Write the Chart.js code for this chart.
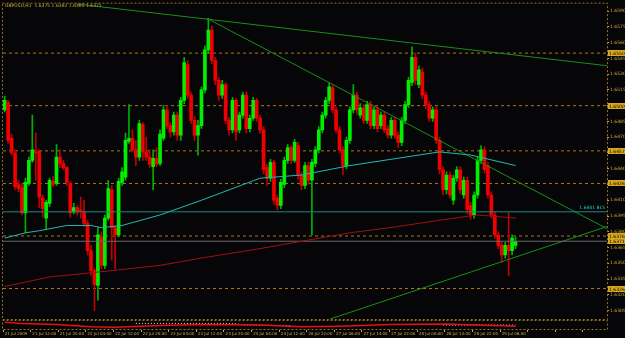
<!DOCTYPE html>
<html>
<head>
<meta charset="utf-8">
<script src="https://cdn.jsdelivr.net/npm/chart.js@4.4.0/dist/chart.umd.min.js"></script>
<style>
html, body { margin: 0; padding: 0; background: #060609; }
#wrap { width: 625px; height: 338px; }
</style>
</head>
<body>
<div id="wrap"><canvas id="chart" width="625" height="338"></canvas></div>
<script>
// GBPUSD H1, 21 Jul 2009 04:00 .. 29 Jul 10:00
const chartTitle = 'GBPUSD,H1  1.6375 1.6382 1.6365 1.6371';
const slotCount = 175; // hourly slots incl. empty space on the right

const tickLabels = ['21 Jul 2009', '21 Jul 12:00', '21 Jul 20:00', '22 Jul 04:00', '22 Jul 12:00',
  '22 Jul 20:00', '23 Jul 04:00', '23 Jul 12:00', '23 Jul 20:00', '24 Jul 04:00', '24 Jul 12:00',
  '26 Jul 22:00', '27 Jul 06:00', '27 Jul 14:00', '27 Jul 22:00', '28 Jul 06:00', '28 Jul 14:00',
  '28 Jul 22:00', '29 Jul 06:00'];

const priceTicks = [1.6305, 1.6320, 1.6335, 1.6350, 1.6365, 1.6380, 1.6395, 1.6410, 1.6425, 1.6440,
  1.6455, 1.6470, 1.6485, 1.6500, 1.6515, 1.6530, 1.6545, 1.6560, 1.6575, 1.6590];

const opens = [
  1.6496,1.6503,1.6469,1.6455,1.6425,1.6422,1.6398,1.6426,1.6448,1.6456,
  1.6457,1.6412,1.6393,1.6407,1.6428,1.6426,1.6451,1.6445,1.6441,1.6426,
  1.6399,1.6403,1.6401,1.6399,1.6388,1.6362,1.6343,1.6329,1.6375,1.6348,
  1.6393,1.6420,1.6384,1.6377,1.6427,1.6432,1.6466,1.6469,1.6458,1.6451,
  1.6482,1.6456,1.6451,1.6442,1.6450,1.6445,1.6469,1.6496,1.6481,1.6475,
  1.6491,1.6472,1.6505,1.6539,1.6510,1.6486,1.6472,1.6481,1.6515,1.6553,
  1.6572,1.6543,1.6524,1.6510,1.6520,1.6486,1.6477,1.6505,1.6477,1.6491,
  1.6510,1.6478,1.6488,1.6505,1.6488,1.6477,1.6441,1.6431,1.6446,1.6412,
  1.6405,1.6425,1.6448,1.6460,1.6448,1.6462,1.6434,1.6424,1.6443,1.6429,
  1.6445,1.6458,1.6477,1.6491,1.6505,1.6517,1.6496,1.6477,1.6458,1.6443,
  1.6467,1.6496,1.6510,1.6491,1.6498,1.6486,1.6501,1.6481,1.6496,1.6481,
  1.6491,1.6478,1.6472,1.6486,1.6472,1.6465,1.6486,1.6501,1.6522,1.6546,
  1.6520,1.6532,1.6510,1.6501,1.6488,1.6496,1.6467,1.6439,1.6420,1.6434,
  1.6410,1.6431,1.6439,1.6415,1.6429,1.6405,1.6396,1.6415,1.6448,1.6458,
  1.6443,1.6415,1.6396,1.6377,1.6367,1.6358,1.6367,1.6362,1.6367];
const highs = [
  1.6509,1.6505,1.6473,1.6458,1.6429,1.6426,1.6431,1.6451,1.6491,1.6474,
  1.6458,1.6415,1.6410,1.6431,1.6433,1.6463,1.6458,1.6448,1.6442,1.6428,
  1.6407,1.6405,1.6413,1.6410,1.6391,1.6367,1.6345,1.6384,1.6380,1.6396,
  1.6429,1.6424,1.6386,1.6431,1.6441,1.6474,1.6501,1.6477,1.6467,1.6486,
  1.6484,1.6470,1.6458,1.6458,1.6460,1.6477,1.6500,1.6500,1.6484,1.6494,
  1.6494,1.6508,1.6546,1.6543,1.6513,1.6490,1.6486,1.6518,1.6557,1.6583,
  1.6576,1.6546,1.6527,1.6524,1.6522,1.6489,1.6508,1.6507,1.6494,1.6513,
  1.6513,1.6491,1.6508,1.6507,1.6491,1.6480,1.6444,1.6449,1.6448,1.6415,
  1.6430,1.6451,1.6463,1.6462,1.6468,1.6465,1.6437,1.6446,1.6446,1.6449,
  1.6461,1.6480,1.6494,1.6508,1.6522,1.6520,1.6499,1.6480,1.6461,1.6470,
  1.6499,1.6520,1.6513,1.6502,1.6501,1.6504,1.6504,1.6499,1.6499,1.6494,
  1.6494,1.6481,1.6489,1.6489,1.6475,1.6489,1.6504,1.6527,1.6556,1.6550,
  1.6538,1.6536,1.6513,1.6504,1.6499,1.6499,1.6470,1.6442,1.6437,1.6437,
  1.6434,1.6442,1.6442,1.6432,1.6432,1.6408,1.6418,1.6451,1.6462,1.6461,
  1.6446,1.6418,1.6399,1.6380,1.6370,1.6370,1.6398,1.6377,1.6375];
const lows = [
  1.6494,1.6464,1.6453,1.6420,1.6418,1.6396,1.6379,1.6424,1.6446,1.6429,
  1.6403,1.6394,1.6382,1.6404,1.6423,1.6424,1.6441,1.6439,1.6424,1.6394,
  1.6397,1.6396,1.6393,1.6385,1.6358,1.6338,1.6305,1.6315,1.6345,1.6345,
  1.6391,1.6353,1.6345,1.6375,1.6424,1.6429,1.6464,1.6456,1.6443,1.6448,
  1.6448,1.6448,1.6441,1.6420,1.6442,1.6443,1.6467,1.6478,1.6470,1.6472,
  1.6467,1.6467,1.6502,1.6507,1.6483,1.6467,1.6453,1.6478,1.6512,1.6550,
  1.6540,1.6520,1.6505,1.6507,1.6483,1.6472,1.6474,1.6467,1.6474,1.6488,
  1.6474,1.6475,1.6486,1.6485,1.6474,1.6435,1.6424,1.6428,1.6406,1.6401,
  1.6402,1.6422,1.6445,1.6445,1.6446,1.6430,1.6420,1.6421,1.6425,1.6377,
  1.6442,1.6455,1.6474,1.6488,1.6502,1.6493,1.6474,1.6455,1.6434,1.6440,
  1.6464,1.6493,1.6492,1.6488,1.6483,1.6483,1.6478,1.6478,1.6475,1.6478,
  1.6474,1.6469,1.6469,1.6469,1.6460,1.6462,1.6483,1.6498,1.6519,1.6520,
  1.6517,1.6507,1.6497,1.6485,1.6485,1.6464,1.6435,1.6415,1.6416,1.6412,
  1.6406,1.6428,1.6416,1.6412,1.6397,1.6392,1.6393,1.6412,1.6445,1.6436,
  1.6412,1.6393,1.6374,1.6364,1.6351,1.6355,1.6338,1.6358,1.6364];
const closes = [
  1.6505,1.6467,1.6455,1.6423,1.6421,1.6398,1.6427,1.6448,1.6458,1.6455,
  1.6413,1.6402,1.6408,1.6429,1.6425,1.6451,1.6445,1.6441,1.6427,1.6398,
  1.6403,1.6399,1.6400,1.6388,1.6362,1.6343,1.6330,1.6377,1.6348,1.6393,
  1.6421,1.6384,1.6377,1.6428,1.6437,1.6467,1.6469,1.6458,1.6451,1.6483,
  1.6456,1.6451,1.6444,1.6450,1.6444,1.6473,1.6496,1.6481,1.6475,1.6491,
  1.6472,1.6505,1.6541,1.6510,1.6486,1.6472,1.6481,1.6515,1.6553,1.6572,
  1.6543,1.6524,1.6510,1.6520,1.6486,1.6477,1.6505,1.6475,1.6491,1.6510,
  1.6478,1.6488,1.6505,1.6488,1.6477,1.6439,1.6431,1.6446,1.6410,1.6405,
  1.6427,1.6448,1.6460,1.6448,1.6465,1.6434,1.6424,1.6443,1.6429,1.6446,
  1.6458,1.6477,1.6491,1.6505,1.6518,1.6496,1.6477,1.6458,1.6443,1.6467,
  1.6496,1.6510,1.6496,1.6498,1.6486,1.6501,1.6481,1.6496,1.6478,1.6491,
  1.6477,1.6472,1.6486,1.6472,1.6465,1.6486,1.6501,1.6524,1.6546,1.6524,
  1.6534,1.6510,1.6501,1.6488,1.6496,1.6467,1.6439,1.6420,1.6434,1.6415,
  1.6431,1.6439,1.6420,1.6429,1.6401,1.6396,1.6415,1.6448,1.6458,1.6439,
  1.6415,1.6396,1.6377,1.6367,1.6358,1.6367,1.6362,1.6374,1.6371];

// moving averages (bar index -> value)
const maFastIdx = [0, 6, 10, 18, 25, 28, 34, 45, 57, 74, 86, 100, 114, 126, 135, 148];
const maFastVals = [1.6374, 1.6379, 1.6381, 1.6386, 1.6386, 1.6384, 1.6386, 1.6396, 1.6410,
  1.6431, 1.6434, 1.6443, 1.6450, 1.6456, 1.6453, 1.6443];
const maSlowIdx = [0, 13, 25, 45, 57, 74, 86, 100, 114, 126, 137, 148];
const maSlowVals = [1.6328, 1.6337, 1.6341, 1.6348, 1.6355, 1.6364, 1.6371, 1.6379, 1.6385,
  1.6391, 1.6396, 1.6393];

// lower indicator window (0..10)
const subIdx = [0, 5, 15, 25, 32, 45, 57, 74, 86, 97, 112, 128, 148];
const subRed = [7.0, 6.0, 5.0, 3.0, 2.5, 4.0, 5.0, 4.5, 3.0, 3.5, 5.0, 5.5, 3.5];
const subDotsIdx = [38, 57, 66, 70, 83, 84, 127, 148];
const subDots = [6.0, 6.0, 6.0, 4.5, 4.0, null, 4.5, 4.5];

// trend lines: [startIdx, startPrice, endIdx, endPrice]
const trendLines = [
  [17.5, 1.6598, 174.5, 1.6538],
  [58.6, 1.6583, 174.5, 1.6383],
  [94.3, 1.6297, 174.5, 1.6385]
];
const levelPrices = [1.6550, 1.6500, 1.6457, 1.6426, 1.6376, 1.6326];
const stopLevel = 1.6399;
const stopLabel = '1.6401 BL5';
const bidPrice = 1.6371;

const gold = '#d2aa3c';
const tinyFont = {size: 4.5, family: 'DejaVu Sans'};
const dateFont = {size: 4, family: 'DejaVu Sans'};
const upColor = '#00f000', downColor = '#f00000', dojiColor = '#b0b0b0';

const candleColor = (i, up, down, flat) =>
  closes[i] > opens[i] ? up : (closes[i] < opens[i] ? down : flat);
const bodyColors = opens.map((o, i) => candleColor(i, upColor, downColor, dojiColor));
const wickColors = opens.map((o, i) => candleColor(i, '#00b000', '#c00000', '#909090'));

const hLine = (price) => [{x: -0.5, y: price}, {x: slotCount - 0.5, y: price}];

const lineSet = (data, color, extra) => Object.assign({
  type: 'line', data: data, xAxisID: 'xl', yAxisID: 'y',
  borderColor: color, borderWidth: 1, pointRadius: 0, tension: 0, order: 0
}, extra || {});

const datasets = [
  {
    type: 'bar', label: 'wicks', data: lows.map((l, i) => [l, highs[i]]),
    backgroundColor: wickColors, barThickness: 1, grouped: false, order: 3
  },
  {
    type: 'bar', label: 'bodies', data: opens.map((o, i) => [o, closes[i]]),
    backgroundColor: bodyColors, barThickness: 3, minBarLength: 1, grouped: false, order: 2
  },
  lineSet(maFastIdx.map((x, i) => ({x: x, y: maFastVals[i]})), '#22b8b0'),
  lineSet(maSlowIdx.map((x, i) => ({x: x, y: maSlowVals[i]})), '#a01010'),
  lineSet(hLine(stopLevel), '#1a8a86'),
  lineSet(hLine(bidPrice), '#6a6a6a'),
  lineSet(subIdx.map((x, i) => ({x: x, y: subRed[i]})), '#e81010', {yAxisID: 'ys', borderWidth: 1.5}),
  lineSet(subDotsIdx.map((x, i) => ({x: x, y: subDots[i]})), '#e0e0e0',
    {yAxisID: 'ys', borderDash: [1, 2], spanGaps: false})
];
levelPrices.forEach(p => datasets.push(lineSet(hLine(p), '#a87a1c', {borderDash: [3, 3], order: 4})));
trendLines.forEach(t => datasets.push(lineSet([{x: t[0], y: t[1]}, {x: t[2], y: t[3]}], '#1c8c1c')));

const decor = {
  id: 'decor',
  beforeDraw(chart) {
    const c = chart.ctx;
    c.save();
    c.fillStyle = '#060609';
    c.fillRect(0, 0, chart.width, chart.height);
    c.restore();
  },
  afterDraw(chart) {
    const c = chart.ctx, a = chart.chartArea, y = chart.scales.y, ys = chart.scales.ys;
    c.save();
    c.strokeStyle = '#94721e';
    c.setLineDash([2, 2]);
    c.lineWidth = 1;
    c.strokeRect(a.left - 0.5, y.top - 0.5, a.right - a.left + 1, y.bottom - y.top + 1);
    c.strokeRect(a.left - 0.5, ys.top + 1.5, a.right - a.left + 1, ys.bottom - ys.top - 2);
    c.setLineDash([]);
    c.font = '4.5px "DejaVu Sans"';
    c.textBaseline = 'middle';
    // price boxes for levels and bid
    levelPrices.concat([bidPrice]).forEach(p => {
      const py = Math.round(y.getPixelForValue(p));
      c.fillStyle = '#d8a81e';
      c.fillRect(a.right + 1, py - 3, 17, 6);
      c.fillStyle = '#000';
      c.fillText(p.toFixed(4), a.right + 2, py + 0.5);
    });
    c.fillStyle = '#30d0c8';
    c.textAlign = 'right';
    c.fillText(stopLabel, a.right - 2, y.getPixelForValue(stopLevel) - 4);
    c.textAlign = 'left';
    c.fillStyle = gold;
    c.fillText(chartTitle, 5, 6);
    c.restore();
  }
};

new Chart(document.getElementById('chart'), {
  data: {labels: Array.from({length: slotCount}, (_, i) => i), datasets: datasets},
  options: {
    responsive: false,
    animation: false,
    layout: {padding: {left: 3, top: 3, right: 0, bottom: 0}},
    plugins: {legend: {display: false}, tooltip: {enabled: false}},
    scales: {
      x: {
        type: 'category', offset: true,
        grid: {
          display: true, drawOnChartArea: false, drawTicks: true, tickLength: 2,
          color: ctx => (ctx.index % 8 === 0 ? gold : 'rgba(0,0,0,0)')
        },
        border: {display: false},
        ticks: {
          autoSkip: false, maxRotation: 0, minRotation: 0, align: 'start', padding: 0,
          color: gold, font: dateFont,
          callback: (v, i) => (i % 8 === 0 && tickLabels[i / 8]) ? tickLabels[i / 8] : ''
        },
        afterFit: s => { s.height = 8; }
      },
      xl: {type: 'linear', min: -0.5, max: slotCount - 0.5, display: false},
      y: {
        position: 'right', stack: 'win', stackWeight: 316, min: 1.6297, max: 1.6597,
        afterBuildTicks: s => { s.ticks = priceTicks.map(v => ({value: v})); },
        grid: {drawOnChartArea: false, drawTicks: true, tickLength: 2, color: gold},
        border: {display: false},
        ticks: {color: gold, padding: 1, font: tinyFont, callback: v => v.toFixed(4)},
        afterFit: s => { s.width = 18; }
      },
      ys: {
        position: 'right', stack: 'win', stackWeight: 11, min: 0, max: 10,
        grid: {display: false}, border: {display: false},
        ticks: {display: false},
        afterFit: s => { s.width = 18; }
      }
    }
  },
  plugins: [decor]
});
</script>
</body>
</html>
